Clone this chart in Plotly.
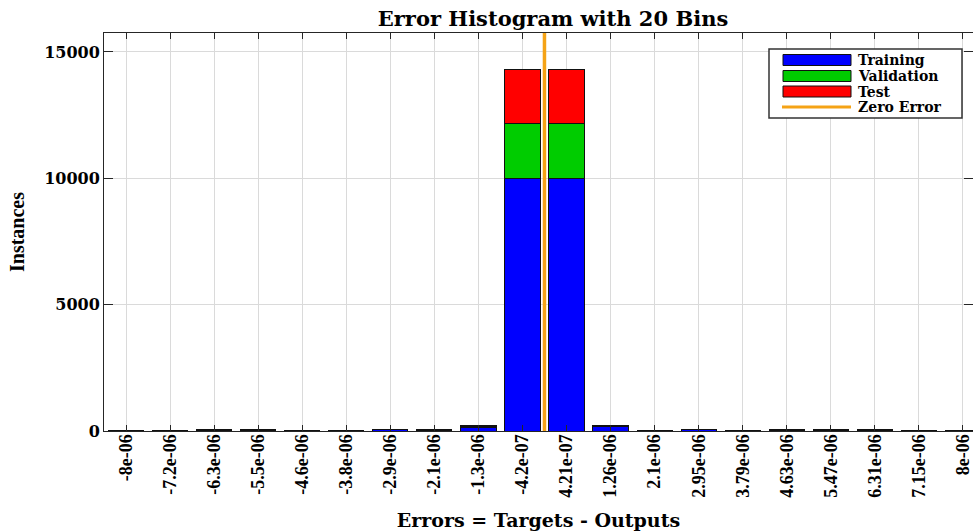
import numpy as np
import plotly.graph_objects as go

# Bin centres of the error histogram (tick labels as printed)
bin_labels = ["-8e-06", "-7.2e-06", "-6.3e-06", "-5.5e-06", "-4.6e-06",
              "-3.8e-06", "-2.9e-06", "-2.1e-06", "-1.3e-06", "-4.2e-07",
              "4.21e-07", "1.26e-06", "2.1e-06", "2.95e-06", "3.79e-06",
              "4.63e-06", "5.47e-06", "6.31e-06", "7.15e-06", "8e-06"]
bin_centers = [float(s) for s in bin_labels]

# Instances per bin for each data split
training = [6, 16, 31, 35, 25, 21, 46, 28, 158, 10010,
            10010, 161, 21, 42, 21, 28, 31, 31, 18, 6]
validation = [1, 3, 7, 8, 5, 5, 10, 6, 34, 2140,
              2140, 35, 5, 9, 5, 6, 7, 7, 4, 1]
test = [1, 3, 7, 7, 5, 4, 9, 6, 33, 2140,
        2140, 34, 4, 9, 4, 6, 7, 7, 3, 1]

zero_error = 0.0

C_TRAIN = "#0000FF"
C_VAL = "#00CC00"
C_TEST = "#FF0000"
C_ZERO = "#F5A316"
SERIF_WIDE = "DejaVu Serif"
SERIF = "Liberation Serif"

W, H = 973, 531
L, T, B = 104, 33, 100
plot_w = W - L
plot_h = H - T - B

idx = np.arange(len(bin_labels))
# position of zero error between the bin centres
zero_pos = float(np.interp(zero_error, bin_centers, idx))

fig = go.Figure()
for name, vals, col in [("Training", training, C_TRAIN),
                        ("Validation", validation, C_VAL),
                        ("Test", test, C_TEST)]:
    fig.add_trace(go.Bar(x=idx, y=vals, name=name, width=0.8,
                         marker=dict(color=col, line=dict(color="#111111", width=1)),
                         showlegend=False))

ymax = 15750
fig.add_trace(go.Scatter(x=[zero_pos, zero_pos], y=[0, ymax], mode="lines",
                         line=dict(color=C_ZERO, width=3.5), name="Zero Error",
                         showlegend=False))

# Legend box drawn in pixel-like paper coordinates
def px(xp):
    return (xp - L) / plot_w

def py(yp):
    return (H - B - yp) / plot_h

shapes = [dict(type="rect", xref="paper", yref="paper",
               x0=px(769), x1=px(962), y0=py(118), y1=py(49),
               fillcolor="white", line=dict(color="#333333", width=1.5), layer="above")]
annotations = []
entries = [("Training", C_TRAIN, 60), ("Validation", C_VAL, 76),
           ("Test", C_TEST, 91.5), ("Zero Error", C_ZERO, 107)]
for name, col, yc in entries:
    if name == "Zero Error":
        shapes.append(dict(type="line", xref="paper", yref="paper",
                           x0=px(782), x1=px(851), y0=py(yc), y1=py(yc),
                           line=dict(color=col, width=3), layer="above"))
    else:
        shapes.append(dict(type="rect", xref="paper", yref="paper",
                           x0=px(783), x1=px(851), y0=py(yc + 5.5), y1=py(yc - 5.5),
                           fillcolor=col, line=dict(color="#111111", width=1), layer="above"))
    annotations.append(dict(xref="paper", yref="paper", x=px(856), y=py(yc),
                            xanchor="left", yanchor="middle", showarrow=False,
                            text=f"<b>{name}</b>",
                            font=dict(family=SERIF_WIDE, size=14, color="black")))

fig.update_layout(
    width=W, height=H,
    margin=dict(l=L, r=0, t=T, b=B),
    paper_bgcolor="white", plot_bgcolor="white",
    barmode="stack", bargap=0.2,
    shapes=shapes, annotations=annotations,
    title=dict(text="<b>Error Histogram with 20 Bins</b>",
               x=(553 - L) / plot_w, xref="paper", xanchor="center",
               y=1 - 19 / H, yref="container", yanchor="middle",
               font=dict(family=SERIF_WIDE, size=21, color="black")),
)

fig.update_xaxes(
    range=[-0.5, -0.5 + plot_w / 44.05],
    tickmode="array", tickvals=idx, ticktext=[f"<b>{s}</b>" for s in bin_labels],
    tickangle=-90, tickfont=dict(family=SERIF, size=18, color="black"),
    ticklabelstandoff=-5,
    ticks="inside", ticklen=6, tickcolor="#262626",
    showline=True, linecolor="#262626", linewidth=1, mirror="ticks",
    showgrid=True, gridcolor="#DADADA", gridwidth=1, zeroline=False,
    title=dict(text="<b>Errors = Targets - Outputs</b>", standoff=21,
               font=dict(family=SERIF_WIDE, size=19, color="black")),
    automargin=False,
)
fig.update_yaxes(
    range=[0, ymax],
    tickmode="array", tickvals=[0, 5000, 10000, 15000],
    ticktext=["<b>0</b>", "<b>5000</b>", "<b>10000</b>", "<b>15000</b>"],
    tickfont=dict(family=SERIF_WIDE, size=16, color="black"),
    ticks="inside", ticklen=9, tickcolor="#262626",
    showline=True, linecolor="#262626", linewidth=1, mirror="ticks",
    showgrid=True, gridcolor="#DADADA", gridwidth=1, zeroline=False,
    title=dict(text="<b>Instances</b>", standoff=14,
               font=dict(family=SERIF, size=20, color="black")),
    automargin=False,
)

fig.write_html("out.html")
